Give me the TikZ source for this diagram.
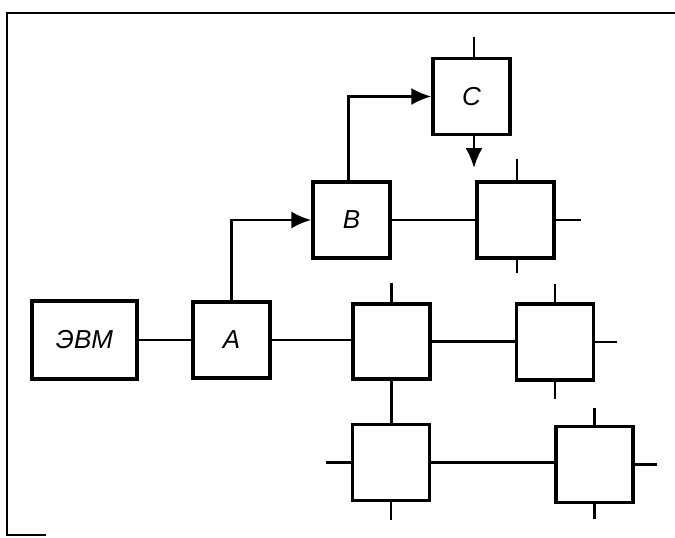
\documentclass[tikz,border=0pt]{standalone}
\usepackage{fontspec}
\setmainfont{Liberation Sans}
\usetikzlibrary{arrows.meta}
\begin{document}
\begin{tikzpicture}[x=1pt,y=-1pt,
  blk/.style={draw, line width=3.2pt, minimum width=77pt, minimum height=76pt, inner sep=0pt, font=\fontsize{26}{30}\selectfont\itshape},
  con/.style={line width=2.8pt},
  arr/.style={con, -{Latex[length=20pt,width=17pt]}},
  frm/.style={line width=2.6pt}]
\useasboundingbox (0,0) rectangle (675,538);
% frame
\draw[frm] (675,13) -- (7,13) -- (7,535) -- (46,535);
% nodes
\node[blk, minimum width=105pt, minimum height=78pt] (EVM) at (84.5,340) {ЭВМ};
\node[blk] (A) at (231.5,340) {A};
\node[blk] (B) at (351.5,220) {B};
\node[blk] (C) at (471.5,96.5) {C};
\node[blk] (D) at (515.5,220) {};
\node[blk, minimum height=75pt] (E) at (391.5,341.5) {};
\node[blk] (F) at (555,342) {};
\node[blk] (G) at (391,462.5) {};
\node[blk] (H) at (594.5,464.5) {};
% connectors
\draw[con] (EVM.east) -- (A.west);
\draw[con] (A.east) -- (A.east -| E.west);
\draw[arr] (A.north) |- (B.west);
\draw[arr] ([xshift=-3pt]B.north) |- (C.west);
\draw[arr] ([xshift=2.5pt]C.south) -- ++(0,32);
\draw[con] (B.east) -- (B.east -| D.west);
\draw[con] (E.east) -- (E.east -| F.west);
\draw[con] (E.south) -- (E.south |- G.north);
\draw[con] (G.east) -- (G.east -| H.west);
% stubs
\draw[con] ([xshift=2.5pt]C.north) -- ++(0,-20);
\draw[con] ([xshift=1.5pt]D.north) -- ++(0,-21);
\draw[con] ([xshift=1.5pt]D.south) -- ++(0,13);
\draw[con] (D.east) -- ++(25,0);
\draw[con] (E.north) -- ++(0,-19);
\draw[con] (F.north) -- ++(0,-18);
\draw[con] (F.south) -- ++(0,17);
\draw[con] (F.east) -- ++(22,0);
\draw[con] (G.west) -- ++(-25,0);
\draw[con] (G.south) -- ++(0,18);
\draw[con] (H.north) -- ++(0,-17);
\draw[con] (H.south) -- ++(0,15);
\draw[con] (H.east) -- ++(22,0);
\end{tikzpicture}
\end{document}
